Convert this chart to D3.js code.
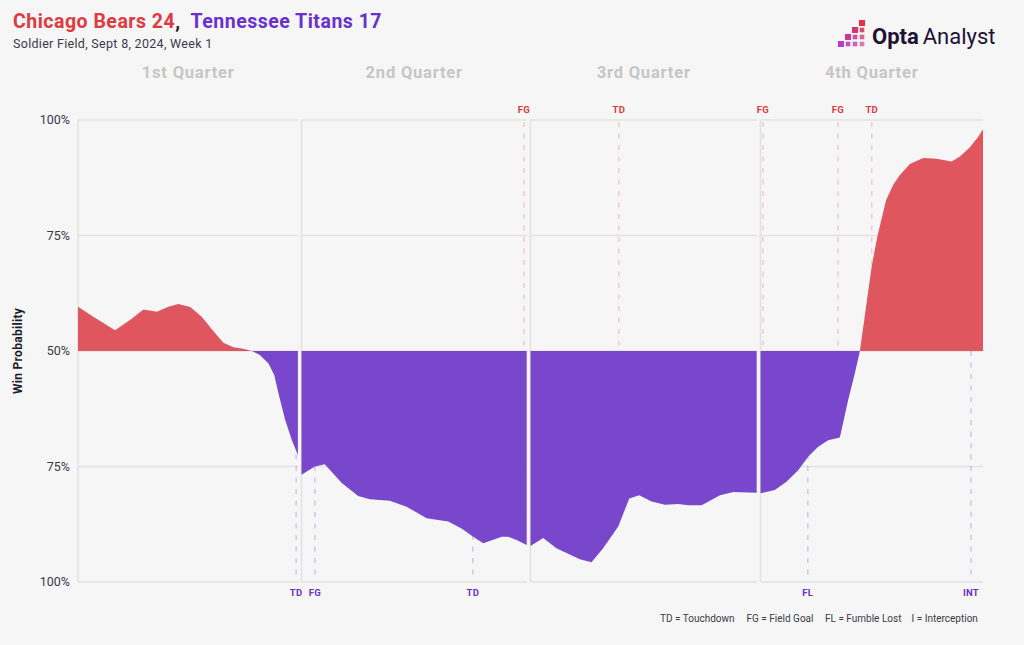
<!DOCTYPE html>
<html>
<head>
<meta charset="utf-8">
<script src="https://cdn.jsdelivr.net/npm/d3@7"></script>
<style>
  html, body { margin: 0; padding: 0; background: #f6f6f6; }
  svg { display: block; }
  text { font-family: Roboto, "Noto Sans", sans-serif; }
</style>
</head>
<body>
<svg id="chart" width="1024" height="645"></svg>
<script>
// ---------------- DATA ----------------
const quarterLabels = ["1st Quarter", "2nd Quarter", "3rd Quarter", "4th Quarter"];
const yTickValues = [100, 75, 50, 25, 0];
const yTickLabels = ["100%", "75%", "50%", "75%", "100%"];

// game minute elapsed (0-60) and Chicago Bears win probability (%)
const gameMinutes = [
  0.00, 1.04, 2.52, 3.54, 4.45, 5.36, 6.15, 6.83, 7.63, 8.42, 9.10, 9.89, 10.57, 11.25, 11.83, 12.39, 12.96, 13.35, 13.64, 14.09, 14.55, 14.96,
  15.00, 15.89, 16.55, 17.66, 18.77, 19.55, 20.88, 21.99, 23.32, 24.76, 25.65, 26.42, 27.09, 28.32, 28.75, 29.31, 29.98,
  30.00, 30.84, 31.72, 32.49, 33.27, 34.04, 34.81, 35.81, 36.54, 37.20, 38.02, 38.90, 39.78, 40.45, 41.33, 42.55, 43.43, 44.98,
  45.00, 45.96, 46.75, 47.54, 48.21, 48.89, 49.56, 50.35, 50.91, 51.36, 51.70, 52.49, 52.87, 53.47, 53.95, 54.40, 55.07, 55.97, 56.87, 57.89, 58.45, 59.12, 59.68, 60.00
];
const bearsWinProb = [
  59.6, 57.4, 54.5, 56.7, 59.0, 58.5, 59.6, 60.2, 59.5, 57.4, 54.7, 51.8, 50.8, 50.5, 50.0, 49.1, 47.3, 44.8, 40.8, 35.1, 30.7, 27.5,
  23.2, 25.0, 25.5, 21.5, 18.6, 17.9, 17.6, 16.3, 13.8, 13.1, 11.6, 9.8, 8.4, 9.8, 9.8, 9.1, 8.0,
  7.8, 9.5, 7.3, 6.1, 4.9, 4.3, 7.3, 12.0, 18.1, 18.8, 17.4, 16.7, 16.9, 16.6, 16.6, 18.8, 19.5, 19.3,
  19.2, 19.9, 21.7, 24.2, 27.1, 29.3, 30.7, 31.3, 39.4, 45.2, 50.0, 68.2, 74.7, 82.7, 86.0, 88.1, 90.5, 91.8, 91.6, 91.0, 92.1, 94.1, 96.4, 98.0
];

// scoring / turnover events
const eventMinutes = [14.84, 15.89, 26.40, 29.80, 35.85, 45.16, 48.19, 50.22, 52.50, 59.19];
const eventLabels  = ["TD", "FG", "TD", "FG", "TD", "FG", "FL", "FG", "TD", "INT"];
const eventTeams   = ["TEN", "TEN", "TEN", "CHI", "CHI", "CHI", "TEN", "CHI", "CHI", "TEN"];

const legendItems = ["TD = Touchdown", "FG = Field Goal", "FL = Fumble Lost", "I = Interception"];

// ---------------- STYLE / LAYOUT ----------------
const RED = "#e0565f", PURPLE = "#7847cc";
const RED_TEXT = "#e0393f", PURPLE_TEXT = "#6a2fd0";
const GRID = "#e2e2e2";
const panelLeft  = [78, 301.5, 530.5, 760.5];
const panelRight = [298.5, 527, 757, 983];
const yTop = 120, yBottom = 582;

const svg = d3.select("#chart");
svg.append("rect").attr("width", 1024).attr("height", 645).attr("fill", "#f6f6f6");

const y = d3.scaleLinear().domain([0, 100]).range([yBottom, yTop]);

// Title
const title = svg.append("text").attr("x", 13).attr("y", 28)
  .attr("font-size", 19.5).attr("font-weight", 700).attr("letter-spacing", 0.5);
title.append("tspan").attr("fill", RED_TEXT).text("Chicago Bears 24");
title.append("tspan").attr("fill", "#1c1c2a").text(",");
title.append("tspan").attr("fill", PURPLE_TEXT).attr("dx", 10).text("Tennessee Titans 17");
svg.append("text").attr("x", 13).attr("y", 48).attr("font-size", 12.5).attr("letter-spacing", 0.3)
  .attr("fill", "#3a3a48")
  .text("Soldier Field, Sept 8, 2024, Week 1");

// Logo
const logo = svg.append("g").attr("transform", "translate(838,20)");
const logoColor = d3.scaleLinear().domain([0, 6]).range(["#b43ccf", "#e2323f"]);
const logoCells = [];
[0, 1, 2, 3].forEach(c => {
  for (let r = 3 - c; r <= 3; r++) logoCells.push({c, r});
});
logo.selectAll("rect").data(logoCells).join("rect")
  .attr("x", d => d.c * 7 + (d.r === 3 - d.c ? 0 : 0.7))
  .attr("y", d => d.r * 7 + (d.r === 3 - d.c ? 0 : 0.7))
  .attr("width", d => d.r === 3 - d.c ? 6 : 4.6)
  .attr("height", d => d.r === 3 - d.c ? 6 : 4.6)
  .attr("fill", d => logoColor(d.c + (3 - d.r)))
  .attr("opacity", d => 1 - (d.r - (3 - d.c)) * 0.12);
const logoText = svg.append("text").attr("x", 872).attr("y", 44).attr("font-size", 22).attr("fill", "#1f1235");
logoText.append("tspan").attr("font-weight", 700).text("Opta");
logoText.append("tspan").attr("font-weight", 400).attr("dx", 4).text("Analyst");

// Y axis labels
svg.append("g").selectAll("text").data(yTickValues).join("text")
  .attr("x", 70).attr("y", d => y(d)).attr("dy", "0.35em")
  .attr("text-anchor", "end").attr("font-size", 12.5).attr("fill", "#3a3a48")
  .text((d, i) => yTickLabels[i]);
svg.append("text")
  .attr("transform", `translate(22,${y(50)}) rotate(-90)`)
  .attr("text-anchor", "middle").attr("font-size", 12).attr("font-weight", 700)
  .attr("letter-spacing", 0.3).attr("fill", "#1c1c2a")
  .text("Win Probability");

// Panels
const defs = svg.append("defs");
quarterLabels.forEach((label, q) => {
  const lo = q * 15, hi = (q + 1) * 15;
  const x = d3.scaleLinear().domain([lo, hi]).range([panelLeft[q], panelRight[q]]);
  const g = svg.append("g");

  // quarter label
  svg.append("text").attr("x", (panelLeft[q] + panelRight[q]) / 2).attr("y", 78)
    .attr("text-anchor", "middle").attr("font-size", 16.5).attr("font-weight", 700)
    .attr("letter-spacing", 0.8).attr("fill", "#c6c6c6").text(label);

  // gridlines
  g.selectAll(".grid").data(yTickValues).join("line")
    .attr("x1", panelLeft[q]).attr("x2", panelRight[q])
    .attr("y1", d => y(d)).attr("y2", d => y(d))
    .attr("stroke", GRID).attr("stroke-width", 1.5);
  g.append("line").attr("x1", panelLeft[q]).attr("x2", panelLeft[q])
    .attr("y1", yTop).attr("y2", yBottom)
    .attr("stroke", GRID).attr("stroke-width", 1.5);

  const pts = gameMinutes.map((m, i) => ({m, p: bearsWinProb[i]}))
    .filter(d => d.m >= lo && (d.m < hi || (q === 3 && d.m <= hi)));

  const area = d3.area().x(d => x(d.m)).y0(y(50)).y1(d => y(d.p));

  defs.append("clipPath").attr("id", "above" + q).append("rect")
    .attr("x", panelLeft[q] - 2).attr("width", panelRight[q] - panelLeft[q] + 4)
    .attr("y", yTop - 5).attr("height", y(50) - yTop + 5);
  defs.append("clipPath").attr("id", "below" + q).append("rect")
    .attr("x", panelLeft[q] - 2).attr("width", panelRight[q] - panelLeft[q] + 4)
    .attr("y", y(50)).attr("height", yBottom - y(50) + 5);

  g.append("path").datum(pts).attr("d", area).attr("fill", RED).attr("clip-path", `url(#above${q})`);
  g.append("path").datum(pts).attr("d", area).attr("fill", PURPLE).attr("clip-path", `url(#below${q})`);

  // events in this quarter
  const evs = eventMinutes.map((m, i) => ({m, label: eventLabels[i], team: eventTeams[i]}))
    .filter(d => d.m >= lo && d.m <= hi);
  evs.forEach(e => {
    const isChi = e.team === "CHI";
    const col = isChi ? RED : PURPLE;
    g.append("line")
      .attr("x1", x(e.m)).attr("x2", x(e.m))
      .attr("y1", isChi ? yTop + 2 : y(50)).attr("y2", isChi ? y(50) : yBottom - 2)
      .attr("stroke", col).attr("stroke-opacity", 0.28).attr("stroke-width", 1.5)
      .attr("stroke-dasharray", "5,6.5");
    g.append("text").attr("x", x(e.m)).attr("y", isChi ? 113 : 596)
      .attr("text-anchor", "middle").attr("font-size", 9.5).attr("font-weight", 700)
      .attr("letter-spacing", 0.3)
      .attr("fill", isChi ? RED_TEXT : PURPLE_TEXT).text(e.label);
  });
});

// Legend
const legendX = [660, 746.5, 825, 911.5];
svg.append("g").selectAll("text").data(legendItems).join("text")
  .attr("x", (d, i) => legendX[i]).attr("y", 622)
  .attr("font-size", 10).attr("fill", "#3a3a48").text(d => d);
</script>
</body>
</html>
